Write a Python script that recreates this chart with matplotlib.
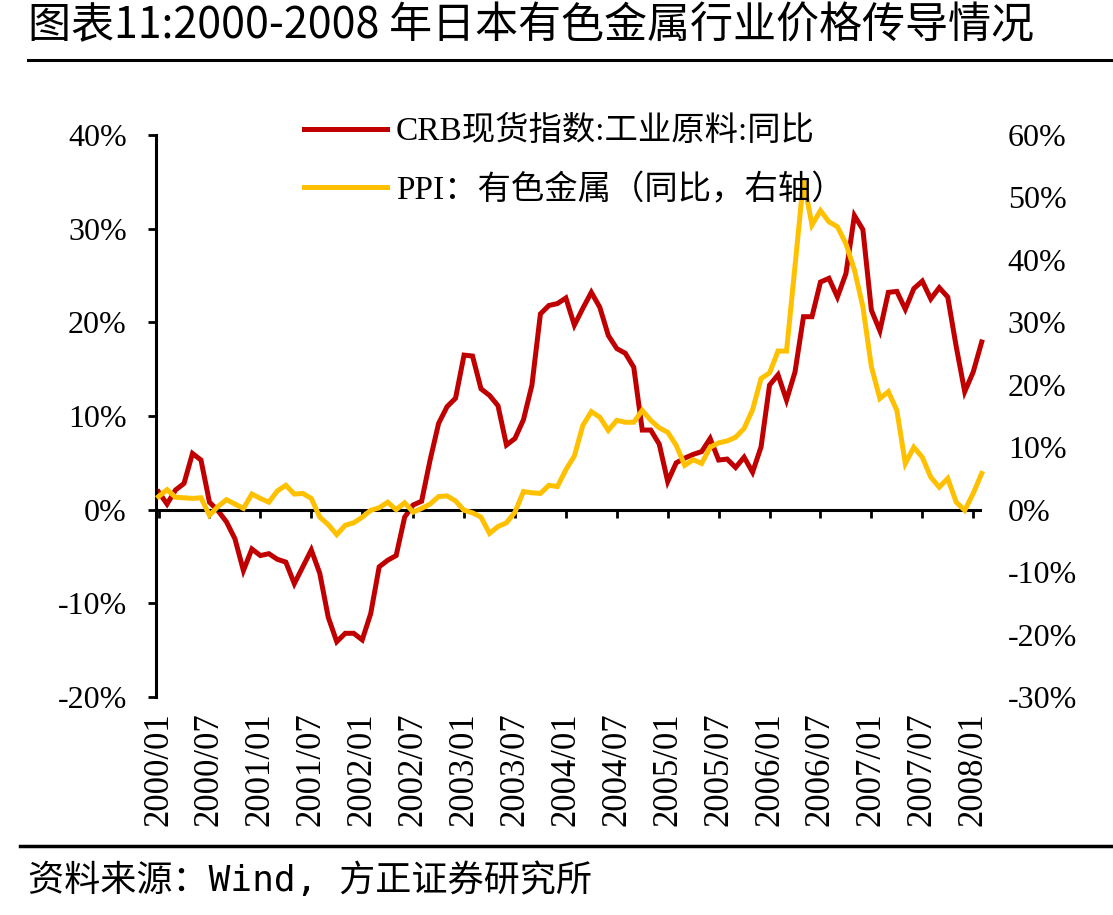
import matplotlib
matplotlib.use("Agg")
import matplotlib.pyplot as plt
from matplotlib.lines import Line2D
from matplotlib.font_manager import FontProperties

plt.rcParams['font.family'] = ['Liberation Serif', 'Noto Sans CJK SC']

# Monthly data, 2000/01 .. 2008/02
crb_yoy = [1.9, 0.6, 2.1, 2.8, 6.0, 5.3, 0.8, -0.1, -1.3, -3.1, -6.5, -4.2,
           -4.9, -4.7, -5.3, -5.6, -7.9, -6.1, -4.3, -6.8, -11.5, -14.1, -13.2, -13.2,
           -13.9, -11.1, -6.1, -5.4, -4.9, -0.8, 0.5, 0.9, 5.3, 9.2, 11.0, 11.9,
           16.5, 16.4, 12.9, 12.2, 11.1, 6.9, 7.6, 9.6, 13.3, 20.9, 21.8, 22.0,
           22.6, 19.7, 21.5, 23.2, 21.6, 18.6, 17.2, 16.7, 15.2, 8.5, 8.5, 7.0,
           3.0, 5.0, 5.5, 5.9, 6.2, 7.6, 5.3, 5.4, 4.5, 5.6, 4.0, 6.7,
           13.3, 14.4, 11.7, 14.7, 20.6, 20.6, 24.3, 24.7, 22.7, 25.2, 31.4, 29.9,
           21.3, 19.1, 23.2, 23.3, 21.4, 23.6, 24.4, 22.5, 23.7, 22.7, 17.4, 12.6,
           14.7, 17.9]

ppi_yoy = [2.1, 3.2, 2.0, 1.9, 1.8, 1.9, -0.9, 0.5, 1.6, 0.9, 0.2, 2.5,
           1.8, 1.2, 3.0, 3.9, 2.5, 2.6, 1.8, -1.2, -2.4, -4.0, -2.5, -2.1,
           -1.2, -0.1, 0.3, 1.2, 0.0, 1.1, -0.4, 0.2, 0.9, 2.1, 2.2, 1.4,
           -0.1, -0.5, -1.2, -3.8, -2.7, -2.1, -0.4, 2.9, 2.7, 2.6, 3.9, 3.7,
           6.4, 8.6, 13.5, 15.7, 14.8, 12.7, 14.3, 14.0, 14.0, 15.9, 14.3, 13.1,
           12.4, 10.3, 7.1, 8.0, 7.4, 10.0, 10.7, 11.0, 11.6, 13.0, 16.0, 21.0,
           21.9, 25.4, 25.4, 39.0, 52.8, 45.6, 47.9, 46.1, 45.3, 42.6, 38.4, 32.5,
           22.9, 17.8, 18.9, 15.9, 7.4, 10.0, 8.4, 5.2, 3.6, 5.0, 1.2, -0.1,
           2.6, 5.8]

tick_labels = ['2000/01', '2000/07', '2001/01', '2001/07', '2002/01', '2002/07',
               '2003/01', '2003/07', '2004/01', '2004/07', '2005/01', '2005/07',
               '2006/01', '2006/07', '2007/01', '2007/07', '2008/01']

left_ticks = [-20, -10, 0, 10, 20, 30, 40]
right_ticks = [-30, -20, -10, 0, 10, 20, 30, 40, 50, 60]

label_crb = 'CRB现货指数:工业原料:同比'
label_ppi = 'PPI：有色金属（同比，右轴）'
title_text = '图表11:2000-2008 年日本有色金属行业价格传导情况'
source_text = '资料来源：Wind, 方正证券研究所'

RED = '#C00000'
YEL = '#FFC000'

W, H = 1113, 915
fig = plt.figure(figsize=(W / 100, H / 100), dpi=100)
ax = fig.add_axes([156 / W, 1 - 697 / H, (980 - 156) / W, (697 - 135) / H])
ax2 = ax.twinx()

x = list(range(len(crb_yoy)))
ax.plot(x, crb_yoy, color=RED, lw=3.6, solid_joinstyle='miter', clip_on=False)
ax2.plot(x, ppi_yoy, color=YEL, lw=3.6, solid_joinstyle='miter', clip_on=False)

ax.set_xlim(-0.3, 96.8)
ax.set_ylim(-20, 40)
ax2.set_ylim(-30, 60)

# left axis
ax.set_yticks(left_ticks)
ax.set_yticklabels([f'{v}%' for v in left_ticks], fontsize=23)
ax.tick_params(axis='y', direction='out', length=6, width=2, pad=15)
ax.spines['left'].set_linewidth(2.2)
ax.spines['top'].set_visible(False)
ax.spines['right'].set_visible(False)

# x axis at zero
ax.spines['bottom'].set_position(('data', 0))
ax.spines['bottom'].set_linewidth(2.2)
tick_pos = [6 * i for i in range(len(tick_labels))]
ax.set_xticks(tick_pos)
ax.tick_params(axis='x', direction='out', length=6, width=2, labelbottom=False)

sec = ax.secondary_xaxis(0.0)
sec.set_xticks(tick_pos)
sec.set_xticklabels(tick_labels, rotation=90, fontsize=25)
sec.tick_params(axis='x', length=0, pad=11)
sec.spines['bottom'].set_visible(False)

# right axis
ax2.set_yticks(right_ticks)
ax2.set_yticklabels([f'{v}%' for v in right_ticks], fontsize=23)
ax2.tick_params(axis='y', length=0, pad=20)
for s in ax2.spines.values():
    s.set_visible(False)

handles = [Line2D([], [], color=RED, lw=3.6), Line2D([], [], color=YEL, lw=3.6)]
fig.legend(handles, [label_crb, label_ppi], loc='upper left',
           bbox_to_anchor=(304 / W, 1 - 116 / H), frameon=False,
           borderpad=0, borderaxespad=0, handlelength=2.5, handletextpad=0.25,
           labelspacing=0.8, prop=FontProperties(family=['Liberation Serif', 'Noto Sans CJK SC'], size=24))

fig.text(28 / W, 1 - 26 / H, title_text, fontsize=31, va='center', ha='left',
         family=['Noto Sans CJK SC', 'DejaVu Sans'])
fig.add_artist(Line2D([28 / W, 1.0], [1 - 60 / H] * 2, transform=fig.transFigure,
                      color='black', lw=2.2))
fig.add_artist(Line2D([20 / W, 1.0], [1 - 846 / H] * 2, transform=fig.transFigure,
                      color='black', lw=2.5))
fig.text(28 / W, 1 - 880 / H, source_text, fontsize=26, va='center', ha='left',
         family=['DejaVu Sans Mono', 'Noto Sans CJK SC'])

fig.savefig('out.png', dpi=100)
